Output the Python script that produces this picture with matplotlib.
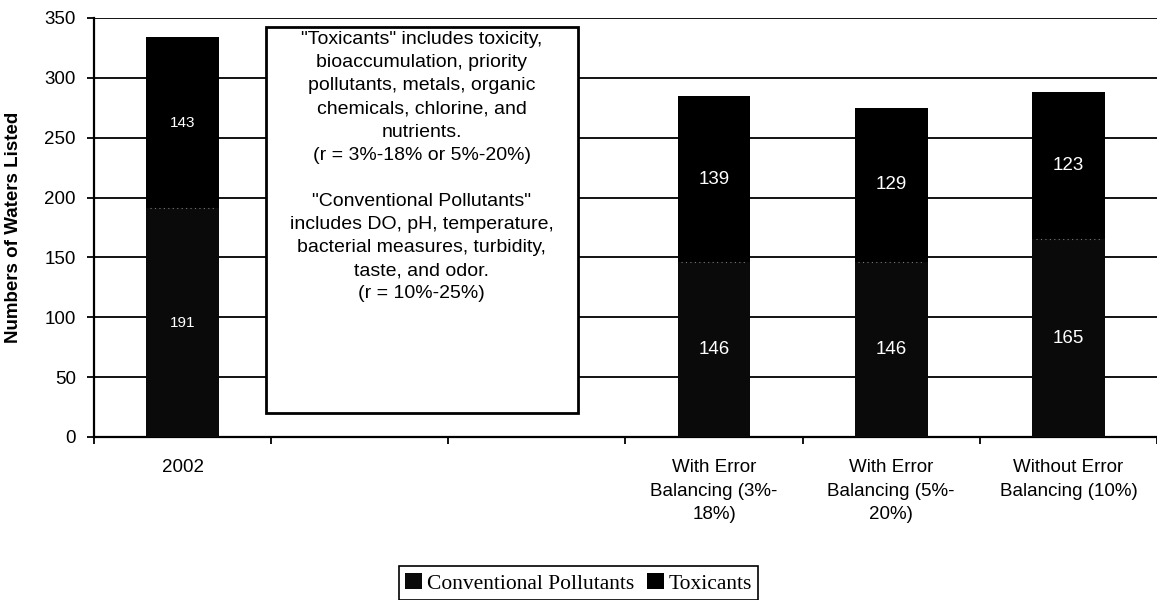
import matplotlib.pyplot as plt
import numpy as np

categorias = ["2002", "", "",
              "With Error\nBalancing (3%-\n18%)",
              "With Error\nBalancing (5%-\n20%)",
              "Without Error\nBalancing (10%)"]
convencionales = [191, 0, 0, 146, 146, 165]
toxicos = [143, 0, 0, 139, 129, 123]

texto_caja = ('"Toxicants" includes toxicity,\nbioaccumulation, priority\n'
              'pollutants, metals, organic\nchemicals, chlorine, and\nnutrients.\n'
              '(r = 3%-18% or 5%-20%)\n\n"Conventional Pollutants"\n'
              'includes DO, pH, temperature,\nbacterial measures, turbidity,\n'
              'taste, and odor.\n(r = 10%-25%)')

plt.rcParams['font.family'] = ['Liberation Sans', 'DejaVu Sans']

fig = plt.figure(figsize=(11.57, 6), dpi=100)
ax = fig.add_axes([0.0812, 0.2717, 0.9188, 0.6983])

x = np.arange(len(categorias))
ancho = 0.41
b1 = ax.bar(x, convencionales, ancho, color="#0a0a0a", label="Conventional Pollutants", zorder=3)
b2 = ax.bar(x, toxicos, ancho, bottom=convencionales, color="black", label="Toxicants", zorder=3)

# linea punteada tenue entre segmentos
for i in range(len(x)):
    if convencionales[i] > 0:
        ax.hlines(convencionales[i], x[i] - ancho / 2 + 0.02, x[i] + ancho / 2 - 0.02,
                  colors="#777777", linestyles=(0, (1, 3)), linewidth=0.8, zorder=4)

# etiquetas centradas en cada segmento (las de 2002 son mas chicas en el original)
for barras in (b1, b2):
    for i, rect in enumerate(barras):
        h = rect.get_height()
        if h > 0:
            ax.text(rect.get_x() + rect.get_width() / 2, rect.get_y() + h / 2, str(int(h)),
                    color="white", ha="center", va="center",
                    fontsize=11 if i == 0 else 13.5, zorder=5)

ax.set_ylim(0, 350)
ax.set_yticks(range(0, 351, 50))
ax.set_xlim(-0.5, 5.44)
ax.yaxis.grid(True, color="black", linewidth=1.3, zorder=0)
ax.set_axisbelow(True)

ax.set_xticks(x)
ax.set_xticklabels(categorias, fontsize=13.5, linespacing=1.5)
ax.set_xticks(np.arange(-0.5, 5.6, 1), minor=True)
ax.tick_params(axis="x", which="major", length=0, pad=16)
ax.tick_params(axis="x", which="minor", length=5, width=1.3, direction="out")
ax.tick_params(axis="y", length=5, width=1.3, labelsize=13.5, pad=8)

for lado in ["top", "right"]:
    ax.spines[lado].set_visible(False)
for lado in ["left", "bottom"]:
    ax.spines[lado].set_linewidth(1.6)

ax.set_ylabel("Numbers of Waters Listed", fontsize=13.5, fontweight="bold")
ax.yaxis.set_label_coords(-0.068, 0.5)

caja = plt.Rectangle((0.47, 20), 1.76, 322.5, facecolor="white", edgecolor="black",
                     linewidth=2, zorder=5)
ax.add_patch(caja)
ax.text(1.35, 339, texto_caja, ha="center", va="top", fontsize=14,
        linespacing=1.47, zorder=6)

ley = fig.legend(handles=[b1, b2], loc="lower center", bbox_to_anchor=(0.5, -0.018),
                 ncol=2, frameon=True, fancybox=False, framealpha=1,
                 edgecolor="black", handlelength=0.8, handleheight=0.8,
                 handletextpad=0.2, columnspacing=0.6, borderpad=0.3,
                 prop={"family": "Liberation Serif", "size": 15.5})
ley.get_frame().set_linewidth(1.2)

fig.savefig("out.png", dpi=100)
